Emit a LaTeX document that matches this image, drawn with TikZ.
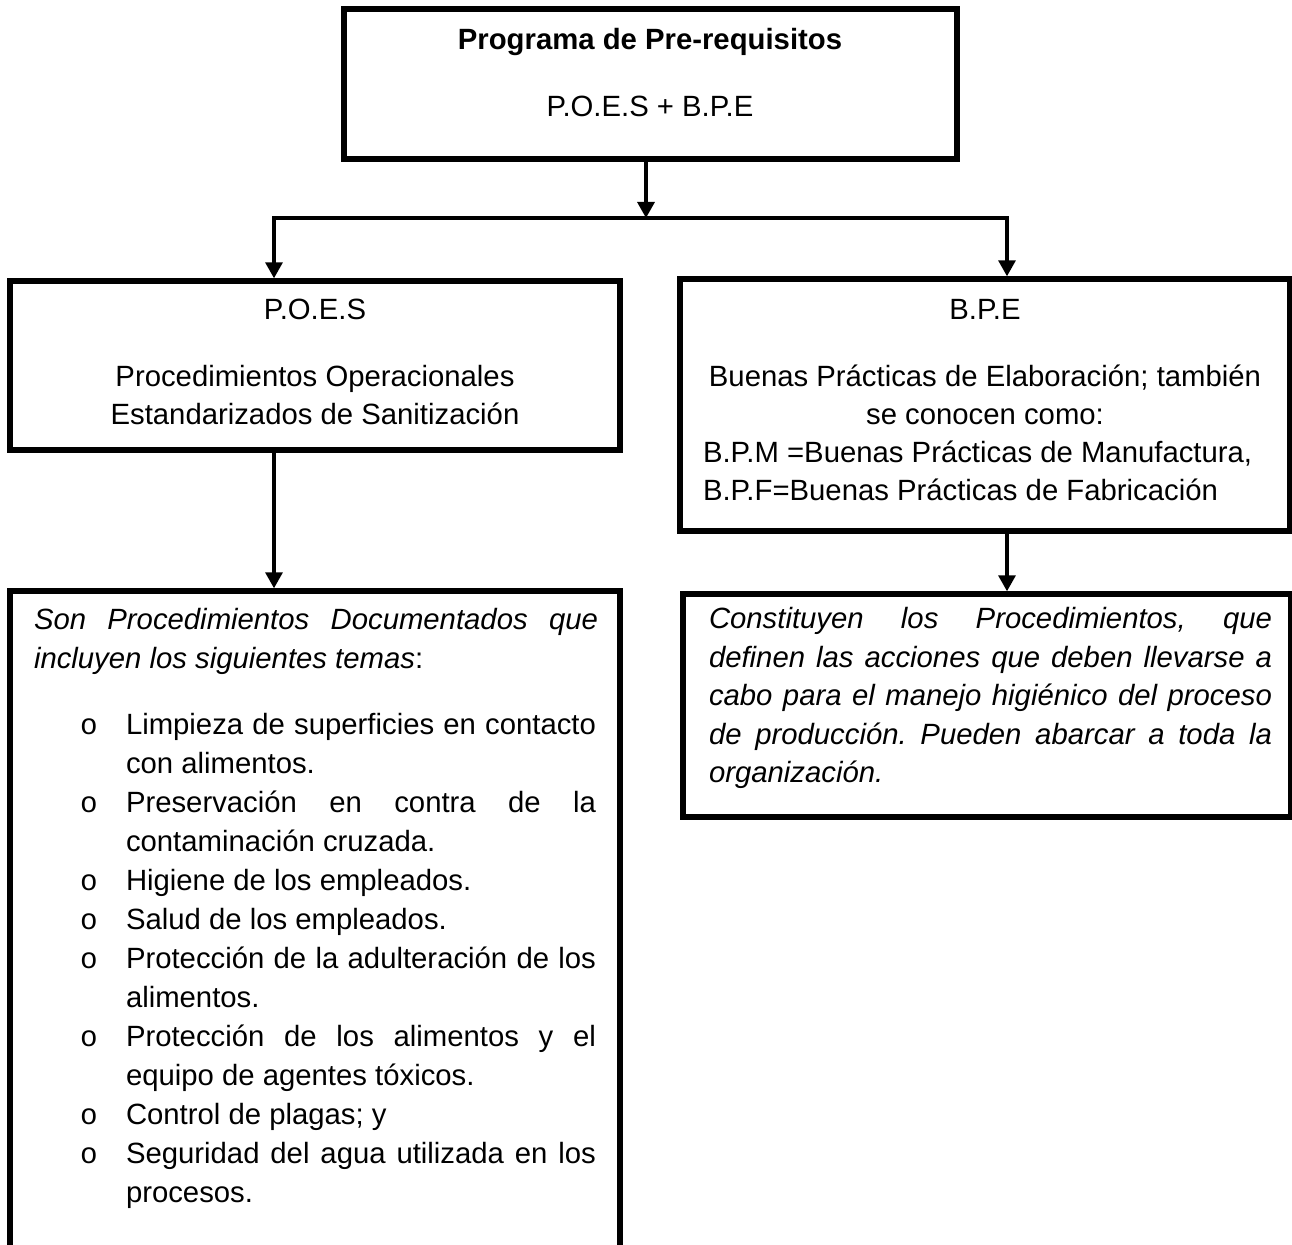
\documentclass[tikz,border=0pt]{standalone}
\usepackage{fontspec}
\setmainfont{Liberation Sans}
\newfontfamily\bulletfont{Liberation Mono}
\usetikzlibrary{arrows.meta}
\frenchspacing

% body text size with a chosen line pitch
\newcommand\txtsize[1]{\fontsize{14.65pt}{#1}\selectfont}
% list helpers: bullet, justified item line, plain item line, continuation line
\newcommand\bulletmark{\makebox[23pt][l]{\bulletfont o}}
\newcommand\itemfull[1]{\hspace*{23pt}\bulletmark\makebox[235pt][s]{#1}}
\newcommand\itemtext[1]{\hspace*{23pt}\bulletmark#1}
\newcommand\itemcont[1]{\hspace*{46pt}#1}
\newcommand\fullline[1]{\makebox[\linewidth][s]{#1}}

\tikzset{
  box/.style={draw, line width=2.7pt, inner sep=0pt, line join=miter},
  txt/.style={inner sep=0pt, outer sep=0pt},
  link/.style={line width=1.6pt, line join=miter},
  arr/.style={link, -{Triangle[width=8.5pt,length=8pt]}},
  arrs/.style={link, {Triangle[width=8.5pt,length=8pt]}-{Triangle[width=8.5pt,length=8pt]}},
}

\begin{document}
\begin{tikzpicture}[x=0.5pt, y=-0.5pt]
\useasboundingbox (0,0) rectangle (1292,1245);
\fill[white] (0,0) rectangle (1292,1245);
\clip (0,0) rectangle (1292,1245);

% frames
\node[box, minimum width=306.5pt, minimum height=75pt]  (top)   at (650.5,84)  {};
\node[box, minimum width=305pt,   minimum height=84.5pt] (poes)  at (315,365.5) {};
\node[box, minimum width=305pt,   minimum height=126pt]  (bpe)   at (985,405)   {};
\node[box, minimum width=305pt,   minimum height=345pt]  (temas) at (315,936)   {};
\node[box, minimum width=304pt,   minimum height=111.5pt] (const) at (987,705.5) {};

% texts
\node[txt, anchor=base] (topt) at (650,50) {\parbox[t]{300pt}{\txtsize{19.25pt}\centering
  \textbf{Programa de Pre-requisitos}\\[14.25pt]
  P.O.E.S + B.P.E}};

\node[txt, anchor=base] (poest) at (315,320) {\parbox[t]{300pt}{\txtsize{19pt}\centering
  P.O.E.S\\[14.5pt]
  Procedimientos Operacionales\\
  Estandarizados de Sanitización}};

\node[txt, anchor=base] (bpet) at (985,320) {\parbox[t]{285pt}{\txtsize{18.85pt}\centering
  B.P.E\\[14.65pt]
  Buenas Prácticas de Elaboración; también\\
  se conocen como:\\
  \makebox[\linewidth][l]{\hspace*{1.5pt}B.P.M =Buenas Prácticas de Manufactura,}\\
  \makebox[\linewidth][l]{\hspace*{1.5pt}B.P.F=Buenas Prácticas de Fabricación}}};

\node[txt, anchor=base west] (temast) at (34,630) {\parbox[t]{282pt}{\txtsize{19.5pt}
  \fullline{\itshape Son Procedimientos Documentados que}\\
  {\itshape incluyen los siguientes temas}:\\[13.5pt]
  \itemfull{Limpieza de superficies en contacto}\\
  \itemcont{con alimentos.}\\
  \itemfull{Preservación en contra de la}\\
  \itemcont{contaminación cruzada.}\\
  \itemtext{Higiene de los empleados.}\\
  \itemtext{Salud de los empleados.}\\
  \itemfull{Protección de la adulteración de los}\\
  \itemcont{alimentos.}\\
  \itemfull{Protección de los alimentos y el}\\
  \itemcont{equipo de agentes tóxicos.}\\
  \itemtext{Control de plagas; y}\\
  \itemfull{Seguridad del agua utilizada en los}\\
  \itemcont{procesos.}}};

\node[txt, anchor=base west] (constt) at (709,629) {\parbox[t]{281.5pt}{\txtsize{19.25pt}\itshape
  \fullline{Constituyen los Procedimientos, que}\\
  \fullline{definen las acciones que deben llevarse a}\\
  \fullline{cabo para el manejo higiénico del proceso}\\
  \fullline{de producción. Pueden abarcar a toda la}\\
  organización.}};

% connectors
\coordinate (fork)  at (646,218);
\coordinate (forkL) at (274,218);
\coordinate (forkR) at (1007,218);
\draw[arr]  (top.south -| fork) -- (fork);
\draw[arrs] (forkL |- poes.north) -- (forkL) -- (forkR) -- (forkR |- bpe.north);
\draw[arr]  (forkL |- poes.south) -- (forkL |- temas.north);
\draw[arr]  (forkR |- bpe.south) -- (forkR |- const.north);
\end{tikzpicture}
\end{document}
